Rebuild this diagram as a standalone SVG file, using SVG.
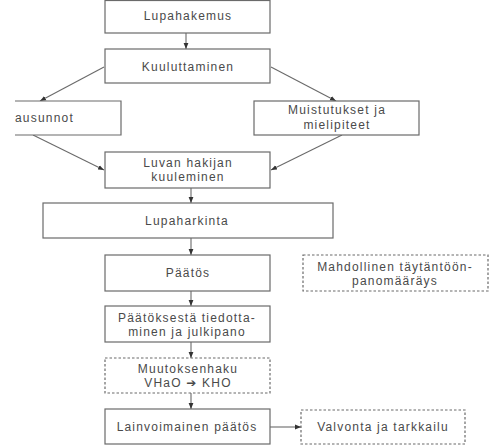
<svg xmlns="http://www.w3.org/2000/svg" width="490" height="446" viewBox="0 0 490 446">
<style>
.b{fill:#fff;stroke:#6a6a6a;stroke-width:1.2}
.d{stroke-dasharray:2.5,2}
.t{font-family:"Liberation Sans",Arial,sans-serif;font-size:12px;fill:#4a4a4a;letter-spacing:1.2px;text-anchor:middle}
.c{stroke:#6a6a6a;stroke-width:1.1;fill:none;marker-end:url(#ah)}
</style>
<defs>
<marker id="ah" viewBox="0 0 10 10" refX="10" refY="5" markerWidth="6" markerHeight="6" markerUnits="userSpaceOnUse" orient="auto">
<path d="M0,1 L10,5 L0,9 Z" fill="#333"/>
</marker>
</defs>
<rect width="490" height="446" fill="#fff"/>
<g id="connectors">
<line class="c" x1="186" y1="33" x2="186" y2="49"/>
<line class="c" x1="104" y1="67" x2="40" y2="101"/>
<line class="c" x1="271" y1="67" x2="336" y2="101"/>
<line class="c" x1="33" y1="135" x2="104" y2="170"/>
<line class="c" x1="342" y1="135" x2="271" y2="170"/>
<line class="c" x1="191" y1="188" x2="191" y2="203"/>
<line class="c" x1="191" y1="238" x2="191" y2="255"/>
<line class="c" x1="191" y1="291" x2="191" y2="306"/>
<line class="c" x1="191" y1="342" x2="191" y2="358"/>
<line class="c" x1="191" y1="393" x2="191" y2="409"/>
<line class="c" x1="270" y1="427" x2="301" y2="427"/>
</g>
<g id="lupahakemus"><rect class="b" x="105" y="0.5" width="165" height="32.5"/><text class="t" x="188" y="20">Lupahakemus</text></g>
<g id="kuuluttaminen"><rect class="b" x="105" y="49" width="165" height="34"/><text class="t" x="188" y="71">Kuuluttaminen</text></g>
<g id="lausunnot"><path class="b" d="M15,101 H121 V135 H15"/><text class="t" x="15" y="122" style="text-anchor:start">ausunnot</text></g>
<g id="muistutukset"><rect class="b" x="254" y="101" width="165" height="34"/><text class="t" x="337" y="114">Muistutukset ja</text><text class="t" x="337" y="129">mielipiteet</text></g>
<g id="kuuleminen"><rect class="b" x="105" y="152" width="165" height="36"/><text class="t" x="188" y="167">Luvan hakijan</text><text class="t" x="188" y="181">kuuleminen</text></g>
<g id="lupaharkinta"><rect class="b" x="43" y="203" width="290" height="35"/><text class="t" x="187" y="225">Lupaharkinta</text></g>
<g id="paatos"><rect class="b" x="105" y="255" width="165" height="36"/><text class="t" x="188" y="277">Päätös</text></g>
<g id="taytantoonpano"><rect class="b d" x="303" y="255" width="185" height="36"/><text class="t" x="395" y="271">Mahdollinen täytäntöön-</text><text class="t" x="395" y="285">panomääräys</text></g>
<g id="tiedottaminen"><rect class="b" x="105" y="306" width="165" height="36"/><text class="t" x="187" y="322">Päätöksestä tiedotta-</text><text class="t" x="187" y="336">minen ja julkipano</text></g>
<g id="muutoksenhaku"><rect class="b d" x="105" y="358" width="165" height="35"/><text class="t" x="188" y="373">Muutoksenhaku</text><text class="t" x="188" y="387">VHaO <tspan style="font-family:'DejaVu Sans',sans-serif">➔</tspan> KHO</text></g>
<g id="lainvoimainen"><rect class="b" x="105" y="409" width="165" height="35"/><text class="t" x="187" y="431">Lainvoimainen päätös</text></g>
<g id="valvonta"><rect class="b d" x="301" y="410" width="164" height="34"/><text class="t" x="383" y="431">Valvonta ja tarkkailu</text></g>
</svg>
